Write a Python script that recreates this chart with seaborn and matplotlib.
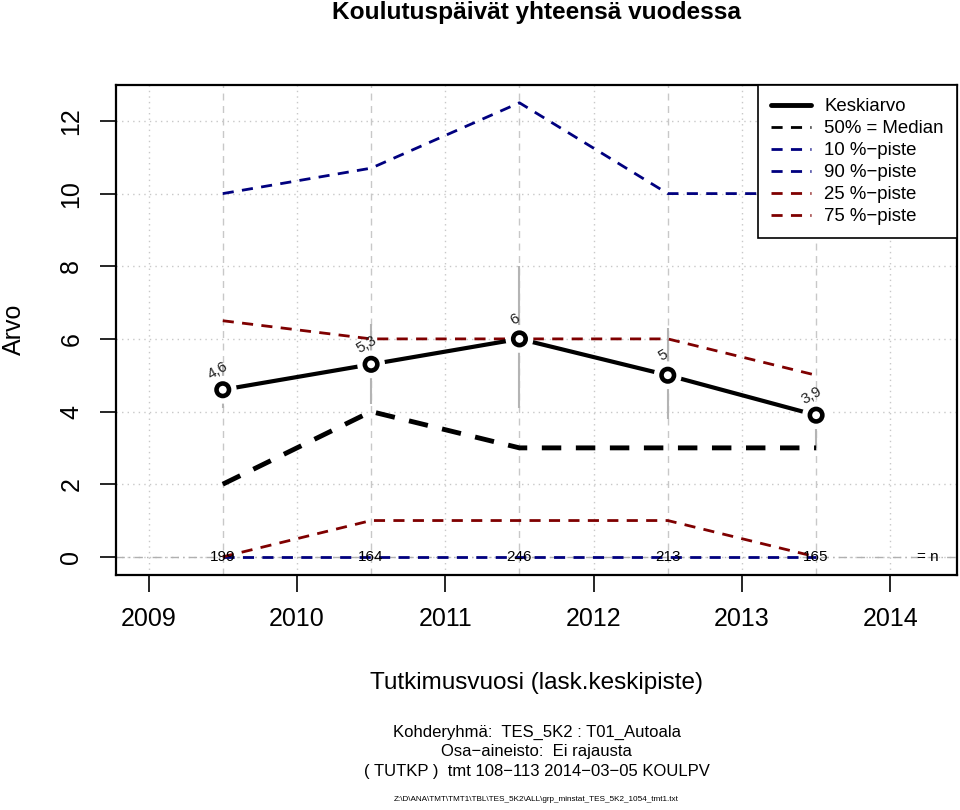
import matplotlib
matplotlib.use("Agg")
import matplotlib.pyplot as plt
from matplotlib.lines import Line2D
import seaborn as sns
import pandas as pd

# data
years = [2009.5, 2010.5, 2011.5, 2012.5, 2013.5]
mean = [4.6, 5.3, 6.0, 5.0, 3.9]
median = [2, 4, 3, 3, 3]
p10 = [0, 0, 0, 0, 0]
p90 = [10, 10.7, 12.5, 10, 10]
p25 = [0, 1, 1, 1, 0]
p75 = [6.5, 6, 6, 6, 5]
ci_low = [4.1, 4.2, 4.1, 3.8, 3.0]
ci_high = [5.3, 6.4, 8.0, 6.3, 4.3]
n_obs = [199, 164, 246, 213, 165]
mean_labels = ["4,6", "5,3", "6", "5", "3,9"]
year_ticks = [2009, 2010, 2011, 2012, 2013, 2014]
y_ticks = [0, 2, 4, 6, 8, 10, 12]

df = pd.DataFrame({"vuosi": years, "mean": mean, "median": median,
                   "p10": p10, "p90": p90, "p25": p25, "p75": p75})

sns.set_theme(style="ticks")
plt.rcParams["font.family"] = ["Liberation Sans", "DejaVu Sans"]
plt.rcParams["text.color"] = "black"
plt.rcParams["axes.labelcolor"] = "black"
plt.rcParams["xtick.color"] = "black"
plt.rcParams["ytick.color"] = "black"

fig = plt.figure(figsize=(9.6, 8.1), dpi=100)
ax = fig.add_axes([0.1208, 0.2901, 0.8761, 0.6050])

# grid
for yt in y_ticks:
    ax.axhline(yt, color="#c8c8c8", lw=1, linestyle=(0, (1, 3)), zorder=0)
for xt in year_ticks:
    ax.axvline(xt, color="#c8c8c8", lw=1, linestyle=(0, (1, 3)), zorder=0)
for xt in years:
    ax.axvline(xt, color="#c8c8c8", lw=1, linestyle=(0, (5, 4)), zorder=0)
ax.axhline(0, color="#b0b0b0", lw=1, linestyle=(0, (6, 3, 1, 3)), zorder=0)

# confidence bars
ax.vlines(years, ci_low, ci_high, color="#b4b4b4", lw=1.5, zorder=1)

dash = (0, (4, 3))
navy = "#00007f"
darkred = "#7f0000"
sns.lineplot(data=df, x="vuosi", y="p10", color=navy, lw=2, linestyle=dash, ax=ax, zorder=2)
sns.lineplot(data=df, x="vuosi", y="p90", color=navy, lw=2, linestyle=dash, ax=ax, zorder=2)
sns.lineplot(data=df, x="vuosi", y="p25", color=darkred, lw=2, linestyle=dash, ax=ax, zorder=2)
sns.lineplot(data=df, x="vuosi", y="p75", color=darkred, lw=2, linestyle=dash, ax=ax, zorder=2)
sns.lineplot(data=df, x="vuosi", y="median", color="black", lw=3.5, linestyle=dash, ax=ax, zorder=2)
sns.lineplot(data=df, x="vuosi", y="mean", color="black", lw=3, ax=ax, zorder=3)
# gap around points like R type="b"
sns.scatterplot(data=df, x="vuosi", y="mean", s=20 ** 2, color="white",
                edgecolor="none", ax=ax, zorder=4)
sns.scatterplot(data=df, x="vuosi", y="mean", s=9 ** 2, facecolor="none",
                edgecolor="black", linewidth=3.3, ax=ax, zorder=5)

for x, y, lab in zip(years, mean, mean_labels):
    ax.annotate(lab, (x, y), xytext=(-3.5, 14), textcoords="offset points",
                ha="center", va="center", rotation=30, fontsize=11,
                color="#222222", zorder=6)

for x, n in zip(years, n_obs):
    ax.text(x, 0, str(n), ha="center", va="center", fontsize=11, zorder=6)
ax.text(2014.25, 0, "= n", ha="center", va="center", fontsize=11, zorder=6)

ax.set_xlim(2008.78, 2014.45)
ax.set_ylim(-0.5, 12.99)
ax.set_xticks(year_ticks)
ax.set_xticklabels([str(v) for v in year_ticks], fontsize=18)
ax.set_yticks(y_ticks)
ax.set_yticklabels([str(v) for v in y_ticks], fontsize=18, rotation=90, va="center")
ax.tick_params(axis="x", length=12, width=1.2, pad=11)
ax.tick_params(axis="y", length=11.5, width=1.2, pad=12)
ax.set_xlabel("")
ax.set_ylabel("")
for sp in ax.spines.values():
    sp.set_visible(True)
    sp.set_linewidth(1.6)
    sp.set_color("black")

handles = [
    Line2D([], [], color="black", lw=3.5),
    Line2D([], [], color="black", lw=2, linestyle=dash),
    Line2D([], [], color=navy, lw=2, linestyle=dash),
    Line2D([], [], color=navy, lw=2, linestyle=dash),
    Line2D([], [], color=darkred, lw=2, linestyle=dash),
    Line2D([], [], color=darkred, lw=2, linestyle=dash),
]
labels = ["Keskiarvo", "50% = Median", "10 %\u2212piste", "90 %\u2212piste",
          "25 %\u2212piste", "75 %\u2212piste"]
leg = ax.legend(handles, labels, loc="upper right", fontsize=13.4, frameon=True,
                fancybox=False, borderaxespad=0, handlelength=2.15,
                labelspacing=0.27, borderpad=0.7, handletextpad=0.7)
leg.get_frame().set_edgecolor("black")
leg.get_frame().set_linewidth(1.2)
leg.get_frame().set_alpha(1)
leg.set_zorder(10)

cx = 0.559
fig.text(cx, 0.985, "Koulutuspäivät yhteensä vuodessa", ha="center", va="center",
         fontsize=17.6, fontweight="bold")
fig.text(0.0146, 0.593, "Arvo", rotation=90, ha="center", va="center", fontsize=18)
fig.text(cx, 0.157, "Tutkimusvuosi (lask.keskipiste)", ha="center", va="center", fontsize=17.5)
fig.text(cx, 0.0955, "Kohderyhmä:  TES_5K2 : T01_Autoala", ha="center", va="center", fontsize=12)
fig.text(cx, 0.072, "Osa\u2212aineisto:  Ei rajausta", ha="center", va="center", fontsize=12)
fig.text(cx, 0.047, "( TUTKP )  tmt 108\u2212113 2014\u221203\u221205 KOULPV", ha="center",
         va="center", fontsize=12)
fig.text(cx, 0.0125, "Z:\\D\\ANA\\TMT\\TMT1\\TBL\\TES_5K2\\ALL\\grp_minstat_TES_5K2_1054_tmt1.txt",
         ha="center", va="center", fontsize=5.9)

fig.savefig("out.png", dpi=100)
